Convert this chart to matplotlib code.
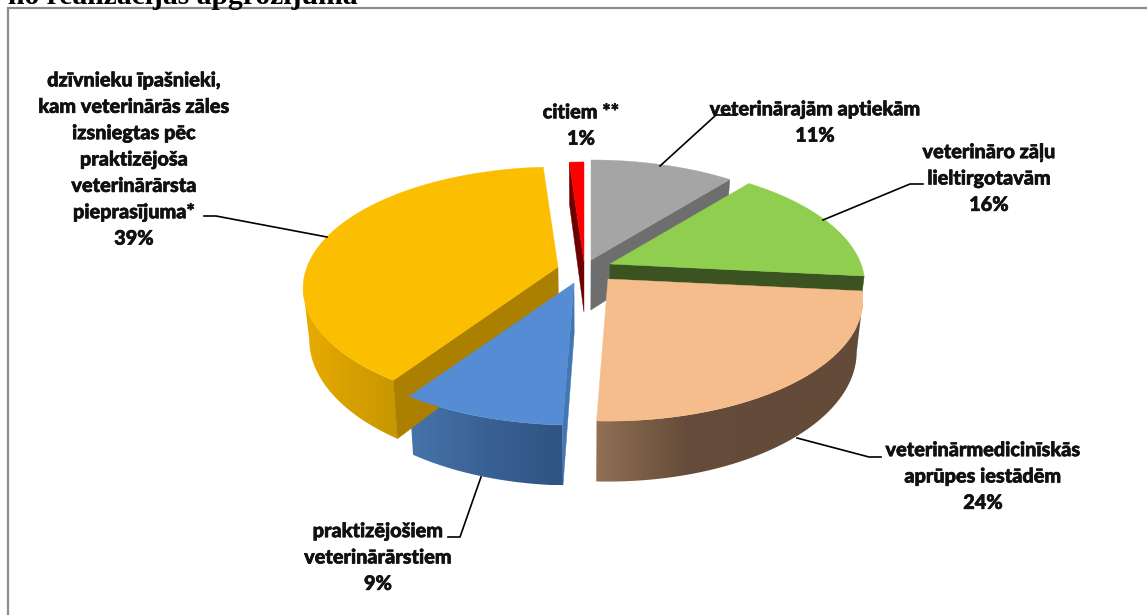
"""Exploded 3D pie of veterinary medicine sales by recipient."""

import matplotlib
matplotlib.use("Agg")
import matplotlib.patheffects as path_effects
import matplotlib.pyplot as plt
import numpy as np

from matplotlib.colors import to_rgb
from matplotlib.patches import Polygon

# data, clockwise from 12 o'clock
categories = ["veterinārajām aptiekām", "veterināro zāļu\nlieltirgotavām",
              "veterinārmedicinīskās\naprūpes iestādēm", "praktizējošiem\nveterinārārstiem",
              "dzīvnieku īpašnieki,\nkam veterinārās zāles\nizsniegtas pēc\npraktizējoša\nveterinārārsta\npieprasījuma*",
              "citiem **"]
shares = [10.8, 15.8, 24.0, 8.9, 39.4, 1.1]

# look of each slice
top_colors = ["#A5A5A5", "#8FCE4F", "#F6BD8C", "#558CD3", "#FBBE00", "#FF0000"]
start_face_colors = [None, None, None, "#4376B5", "#AB8000", "#6E0000"]
end_face_colors = ["#6E6E6E", "#3B5320", None, None, None, None]
wall_stops = [["#6E6E6E"], ["#3B5320"], ["#917054", "#664C3A", "#644B39", "#644B39"],
              ["#4674AC", "#3A6194", "#2F5482"], ["#E8AB00", "#D7A000", "#C69700"], ["#6E0000"]]
apex_points = [(591, 260), (610, 264), (608, 279), (574, 283), (558, 267), (584, 262)]
draw_order = [5, 0, 1, 2, 4, 3]

label_centers = [(815, 122), (989, 178), (983, 476), (378, 557), (134, 159), (581, 125)]
leader_lines = [[(660, 166), (716, 115), (735, 115)],
                [(823, 220), (910, 184), (923, 184)],
                [(797, 438), (869, 457), (881, 457)],
                [(481, 477), (460, 537), (448, 537)],
                [(327, 237), (216, 216), (204, 216)]]

RADIUS_X = 251.0
RADIUS_Y = 117.4
PERSPECTIVE = 0.1736
DEPTH = 50.0
VIEW_X = 583.0
CONVERGE = 0.022


def top_point(apex, angle):
    """Project a rim point of the disc to pixels, with perspective."""
    u, v = np.sin(np.radians(angle)), np.cos(np.radians(angle))
    w = 1 + PERSPECTIVE * v
    return np.column_stack([apex[0] + RADIUS_X * u / w, apex[1] - RADIUS_Y * v / w])


def bottom_of(points, depth):
    """Drop top points down to the lower side of the slice."""
    x = points[:, 0] + (VIEW_X - points[:, 0]) * CONVERGE
    return np.column_stack([x, points[:, 1] + depth])


def draw_wall(axis, rim, rim_low, stops):
    """Left to right gradient clipped to the visible outer wall."""
    wall = Polygon(np.vstack([rim, rim_low[::-1]]), facecolor="none", edgecolor="none", transform=axis.transData)
    both = np.vstack([rim, rim_low])
    rgb = np.array([to_rgb(c) for c in stops])
    steps = np.linspace(0, 1, 256)
    ramp = np.array([np.interp(steps, np.linspace(0, 1, len(stops)), rgb[:, c])
                     for c in range(3)]).T[np.newaxis, :, :]
    image = axis.imshow(ramp, extent=(both[:, 0].min(), both[:, 0].max(), both[:, 1].max(), both[:, 1].min()),
                        aspect="auto", interpolation="bilinear")
    image.set_clip_path(wall)


def draw_slice(axis, apex, start, end, top, start_face, end_face, stops):
    angles = np.linspace(start, end, 240)
    rim = top_point(apex, angles)
    weights = 1 + PERSPECTIVE * np.cos(np.radians(angles))
    rim_low = bottom_of(rim, DEPTH / weights)
    apex_top = np.array([apex], dtype=float)
    apex_low = bottom_of(apex_top, DEPTH)

    # only the part of the rim that faces the viewer gets a wall
    front = np.cos(np.radians(angles)) < -PERSPECTIVE
    if front.sum() > 1 and len(stops) > 1:
        draw_wall(axis, rim[front], rim_low[front], stops)

    for color, corner, corner_low in [(start_face, rim[0], rim_low[0]), (end_face, rim[-1], rim_low[-1])]:
        if color is not None:
            axis.add_patch(Polygon([apex_top[0], corner, corner_low, apex_low[0]],
                                   facecolor=color, edgecolor=color, linewidth=0.3))

    axis.add_patch(Polygon(np.vstack([apex_top, rim]), facecolor=top, edgecolor=top, linewidth=0.3))


def main():
    fig = plt.figure(figsize=(11.47, 6.15), dpi=100)
    axis = fig.add_axes([0, 0, 1, 1])
    axis.axis("off")

    axis.plot([8, 8, 1147], [615, 7.5, 7.5], color="#8C8C8C", linewidth=1.6, solid_joinstyle="miter")

    for line in leader_lines:
        xs, ys = zip(*line)
        axis.plot(xs, ys, color="black", linewidth=1.2)

    edges = np.concatenate([[0], np.cumsum(shares)]) / sum(shares) * 360
    for i in draw_order:
        draw_slice(axis, apex_points[i], edges[i], edges[i + 1], top_colors[i],
                   start_face_colors[i], end_face_colors[i], wall_stops[i])

    axis.set_xlim(0, 1147)
    axis.set_ylim(615, 0)

    for name, share, center in zip(categories, shares, label_centers):
        label = axis.text(center[0], center[1], f"{name}\n{share:.0f}%", ha="center", va="center", family="Lato",
                          fontweight="black", fontsize=14.3, linespacing=1.46, color="#111111")
        label.set_path_effects([path_effects.withStroke(linewidth=0.45, foreground="#111111")])

    fig.text(8 / 1147, 1 - 4 / 615, "no realizācijas apgrozījuma", family="Liberation Serif", fontweight="bold",
             fontsize=21.3, va="baseline", ha="left", color="black")

    fig.savefig("out.png", dpi=100)
    plt.close(fig)


if __name__ == "__main__":
    main()
